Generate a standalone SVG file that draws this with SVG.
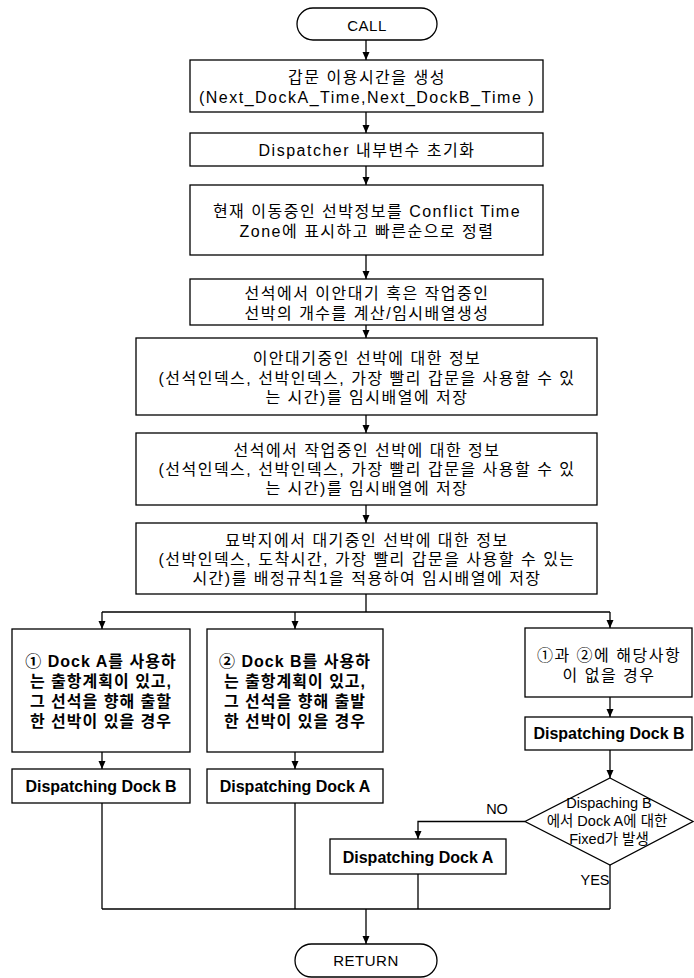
<svg xmlns="http://www.w3.org/2000/svg" width="694" height="978" viewBox="0 0 694 978">
<defs>
<marker id="arr" markerUnits="userSpaceOnUse" markerWidth="8" markerHeight="8" refX="8" refY="4" orient="auto">
<path d="M0,0.5 L8,4 L0,7.5 z" fill="#000"/>
</marker>
<style>
.n rect,.n polygon{fill:#fff;stroke:#000;stroke-width:1.3}
.c path{fill:none;stroke:#000;stroke-width:1.3}
.c path.a{marker-end:url(#arr)}
text{font-family:"Liberation Sans","Noto Sans CJK KR",sans-serif;fill:#000;text-anchor:middle}
.t{font-size:16px;letter-spacing:1.5px}
.k{font-size:16px;letter-spacing:1px;font-weight:bold}
.d{font-size:16px;font-weight:bold}
.s{font-size:14.5px}
.term{font-size:15px;letter-spacing:0.5px}
</style>
</defs>

<g id="call" class="n"><rect x="297" y="8" width="140" height="32" rx="16"/><text class="term" x="367" y="30.5">CALL</text></g>

<g id="n1" class="n"><rect x="190" y="60" width="353" height="52"/>
<text class="t" x="367" y="83">갑문 이용시간을 생성</text>
<text class="t" x="367" y="103">(Next_DockA_Time,Next_DockB_Time )</text></g>

<g id="n2" class="n"><rect x="190" y="133" width="353" height="33"/>
<text class="t" x="367" y="155.5">Dispatcher 내부변수 초기화</text></g>

<g id="n3" class="n"><rect x="190" y="185" width="353" height="70"/>
<text class="t" x="367" y="216.5">현재 이동중인 선박정보를 Conflict Time</text>
<text class="t" x="367" y="236.5">Zone에 표시하고 빠른순으로 정렬</text></g>

<g id="n4" class="n"><rect x="190" y="279" width="353" height="46"/>
<text class="t" x="367" y="298.5">선석에서 이안대기 혹은 작업중인</text>
<text class="t" x="367" y="318.5">선박의 개수를 계산/임시배열생성</text></g>

<g id="n5" class="n"><rect x="136" y="338" width="461" height="77"/>
<text class="t" x="367" y="364">이안대기중인 선박에 대한 정보</text>
<text class="t" x="367" y="383.5">(선석인덱스, 선박인덱스, 가장 빨리 갑문을 사용할 수 있</text>
<text class="t" x="367" y="403">는 시간)를 임시배열에 저장</text></g>

<g id="n6" class="n"><rect x="136" y="433" width="461" height="72"/>
<text class="t" x="367" y="455.5">선석에서 작업중인 선박에 대한 정보</text>
<text class="t" x="367" y="474.5">(선석인덱스, 선박인덱스, 가장 빨리 갑문을 사용할 수 있</text>
<text class="t" x="367" y="493.5">는 시간)를 임시배열에 저장</text></g>

<g id="n7" class="n"><rect x="136" y="523" width="461" height="71"/>
<text class="t" x="367" y="545.5">묘박지에서 대기중인 선박에 대한 정보</text>
<text class="t" x="367" y="564.5">(선박인덱스, 도착시간, 가장 빨리 갑문을 사용할 수 있는</text>
<text class="t" x="367" y="583.5">시간)를 배정규칙1을 적용하여 임시배열에 저장</text></g>

<g id="caseA" class="n"><rect x="12" y="629" width="178" height="123"/>
<text class="k" x="101" y="666.5">① Dock A를 사용하</text>
<text class="k" x="101" y="686.5">는 출항계획이 있고,</text>
<text class="k" x="101" y="706.5">그 선석을 향해 출할</text>
<text class="k" x="101" y="726.5">한 선박이 있을 경우</text></g>

<g id="caseB" class="n"><rect x="207" y="629" width="176" height="123"/>
<text class="k" x="295" y="666.5">② Dock B를 사용하</text>
<text class="k" x="295" y="686.5">는 출항계획이 있고,</text>
<text class="k" x="295" y="706.5">그 선석을 향해 출발</text>
<text class="k" x="295" y="726.5">한 선박이 있을 경우</text></g>

<g id="caseC" class="n"><rect x="525" y="628" width="167" height="69"/>
<text class="t" x="609" y="660.5">①과 ②에 해당사항</text>
<text class="t" x="609" y="680.5">이 없을 경우</text></g>

<g id="ddbA" class="n"><rect x="12" y="769" width="178" height="34"/>
<text class="d" x="101" y="791.5">Dispatching Dock B</text></g>

<g id="ddaB" class="n"><rect x="207" y="769" width="176" height="34"/>
<text class="d" x="295" y="791.5">Dispatching Dock A</text></g>

<g id="ddbC" class="n"><rect x="525" y="717" width="167" height="33"/>
<text class="d" x="609" y="739">Dispatching Dock B</text></g>

<g id="dec" class="n"><polygon points="610,778 693,821.5 610,865 525,821.5"/>
<text class="s" x="609" y="808">Dispaching B</text>
<text class="s" x="607" y="826">에서 Dock A에 대한</text>
<text class="s" x="609" y="844">Fixed가 발생</text></g>

<g id="ddaC" class="n"><rect x="330" y="839" width="176" height="35"/>
<text class="d" x="418" y="862.5">Dispatching Dock A</text></g>

<g id="ret" class="n"><rect x="295" y="944" width="142" height="33" rx="16.5"/><text class="term" x="366" y="966">RETURN</text></g>

<g id="connectors" class="c">
<path class="a" d="M366,40 V60"/>
<path class="a" d="M366,112 V133"/>
<path class="a" d="M366,166 V185"/>
<path class="a" d="M366,255 V279"/>
<path class="a" d="M366,325 V338"/>
<path class="a" d="M366,415 V433"/>
<path class="a" d="M366,505 V523"/>
<path d="M366,594 V612"/>
<path d="M102,612 H610"/>
<path class="a" d="M102,612 V629"/>
<path class="a" d="M295,612 V629"/>
<path class="a" d="M610,612 V628"/>
<path class="a" d="M102,752 V769"/>
<path class="a" d="M295,752 V769"/>
<path class="a" d="M610,697 V717"/>
<path class="a" d="M610,750 V778"/>
<path class="a" d="M525,821.5 H418 V839"/>
<path d="M610,865 V909"/>
<path d="M418,874 V909"/>
<path d="M102,803 V909"/>
<path d="M295,803 V909"/>
<path d="M102,909 H610"/>
<path class="a" d="M366,909 V944"/>
<text class="s" x="497" y="814">NO</text>
<text class="s" x="595" y="885">YES</text>
</g>
</svg>
